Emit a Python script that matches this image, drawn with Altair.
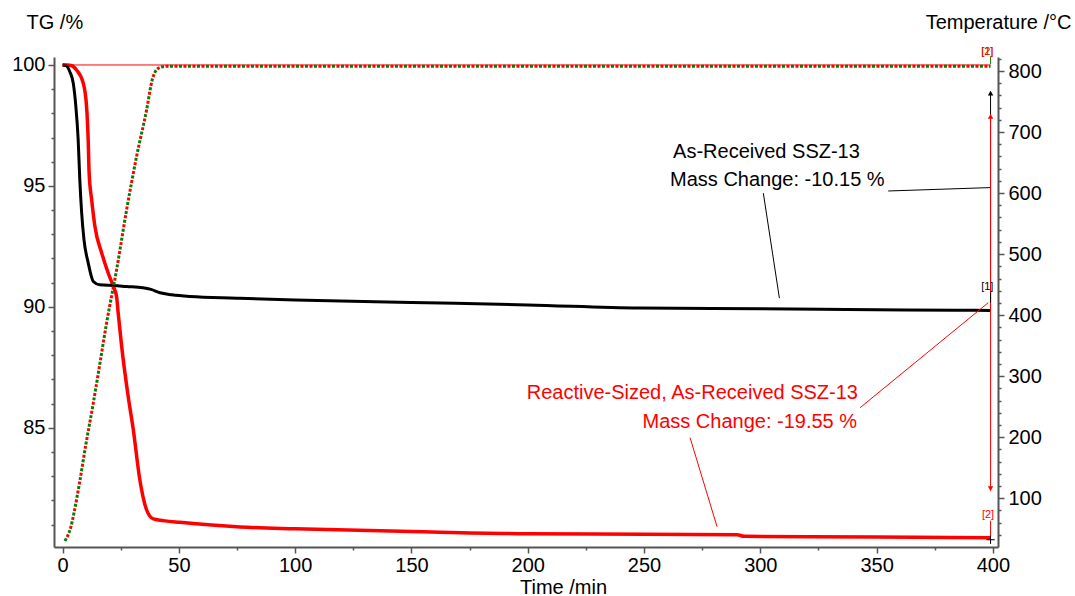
import altair as alt
import pandas as pd

# ---------------- data ----------------
# TG of as-received SSZ-13 (black)
as_time = [0, 1.5, 3.1, 4.6, 5.7, 6.7, 7.4, 8.2, 9.2, 11.0, 13.2, 16.0, 22.0, 27.5, 34.5,
           38.0, 41.9, 47.0, 54.8, 74.8, 100, 150, 200, 248, 300, 337, 385, 399]
as_tg = [100, 99.97, 99.72, 99.24, 98.28, 96.90, 95.25, 93.88, 92.77, 91.82, 91.05, 90.91,
         90.88, 90.84, 90.79, 90.72, 90.58, 90.50, 90.43, 90.36, 90.28, 90.18, 90.08, 89.95,
         89.92, 89.89, 89.86, 89.85]

# TG of reactive-sized, as-received SSZ-13 (red)
rs_time = [0, 2, 4, 6.0, 8.9, 10.3, 11.0, 11.4, 12.5, 13.9, 16.8, 19.6, 21.8, 23.2, 23.9,
           25.4, 28.2, 30.4, 33.2, 36.1, 39.0, 44, 50.4, 76.3, 100, 150, 200, 250, 290, 293,
           350, 399]
rs_tg = [100, 100, 99.97, 99.79, 99.24, 98.28, 96.90, 95.54, 94.42, 93.32, 92.23, 91.40,
         90.84, 90.43, 89.74, 88.36, 86.29, 84.92, 82.85, 81.61, 81.23, 81.15, 81.09, 80.90,
         80.82, 80.71, 80.62, 80.60, 80.58, 80.51, 80.48, 80.45]

# Temperature programme (same for both runs)
temp_time = [1.0, 2.0, 3.5, 5.0, 7.5, 10.0, 13.2, 16.0, 18.9, 23.2, 27.5, 31.8, 36.1, 38.5,
             40.0, 42.0, 45.0, 100, 200, 300, 399]
temp_val = [30, 37, 52, 78, 130, 188, 256, 320, 387, 474, 572, 660, 736, 785, 800, 806, 808,
            808, 808, 808, 808]

# axis ticks
x_ticks = list(range(0, 401, 25))
tg_ticks = list(range(81, 101))
temp_ticks = list(range(40, 821, 20))

# annotation texts (anchors in data units: time, TG)
note_left_text = ["As-Received SSZ-13", "Mass Change: -10.15 %"]
note_left_t = [262.5, 261.2]
note_left_tg = [96.40, 95.23]
note_right_text = ["Reactive-Sized, As-Received SSZ-13", "Mass Change: -19.55 %"]
note_right_t = [342.0, 341.6]
note_right_tg = [86.45, 85.25]

# small step marks
mark_text = ["[1]", "[2]", "[1]", "[2]"]
mark_t = [397.6, 397.9, 397.6, 397.6]
mark_tg = [90.83, 81.40, 100.54, 100.54]
mark_col = ["black", "red", "green", "red"]

# leader / marker segments (time1, tg1, time2, tg2, colour)
seg_t1 = [0, 301.3, 355.0, 269.8, 342.9, 399, 399, 399, 399, 399]
seg_y1 = [100, 94.70, 94.79, 84.59, 85.83, 98.90, 97.95, 90.58, 81.16, 100.33]
seg_t2 = [399, 308.2, 398.8, 281.4, 398.0, 399, 399, 399, 399, 399]
seg_y2 = [100, 90.36, 94.93, 80.91, 90.17, 89.85, 82.40, 90.17, 80.50, 100.04]
seg_col = ["red", "black", "black", "red", "red", "black", "red", "black", "red", "green"]

# arrow heads
arrow_t = [399, 399, 399]
arrow_tg = [98.84, 97.88, 82.48]
arrow_shape = ["triangle-up", "triangle-up", "triangle-down"]
arrow_col = ["black", "red", "red"]

# ---------------- frames ----------------
df_as = pd.DataFrame({"t": as_time, "tg": as_tg})
df_rs = pd.DataFrame({"t": rs_time, "tg": rs_tg})
df_temp = pd.DataFrame({"t": temp_time, "T": temp_val})
df_nl = pd.DataFrame({"t": note_left_t, "tg": note_left_tg, "txt": note_left_text})
df_nr = pd.DataFrame({"t": note_right_t, "tg": note_right_tg, "txt": note_right_text})
df_mk = pd.DataFrame({"t": mark_t, "tg": mark_tg, "txt": mark_text, "c": mark_col})
df_seg = pd.DataFrame({"t1": seg_t1, "y1": seg_y1, "t2": seg_t2, "y2": seg_y2, "c": seg_col})
df_arr = pd.DataFrame({"t": arrow_t, "tg": arrow_tg, "s": arrow_shape, "c": arrow_col})
df_cross = pd.DataFrame({"t": [399], "tg": [80.37]})

FONT = "Liberation Sans"
AX = dict(domainColor="#555555", domainWidth=2, tickColor="#555555", tickWidth=1.5,
          labelColor="black", labelFont=FONT, labelFontSize=20, titleFont=FONT,
          titleFontSize=20, titleFontWeight="normal", titleColor="black", grid=False)

xscale = alt.Scale(domain=[-3.7, 402.2], nice=False, zero=False)
tgscale = alt.Scale(domain=[80.07, 100.33], nice=False, zero=False)
tscale = alt.Scale(domain=[20, 823], nice=False, zero=False)


def tick_len(step):
    return {"condition": {"test": f"datum.value % {step} === 0", "value": 6}, "value": 3}


x_axis = alt.Axis(values=x_ticks, labelExpr="datum.value % 50 === 0 ? datum.label : ''",
                  title="Time /min", titleX=509, titleY=40, titleBaseline="middle",
                  titleAlign="center", labelPadding=2, tickSize=tick_len(50), **AX)
tg_axis = alt.Axis(values=tg_ticks, labelExpr="datum.value % 5 === 0 ? datum.label : ''",
                   title="TG /%", titleAngle=0, titleX=-28, titleY=-35, titleAlign="left",
                   titleBaseline="middle", labelPadding=3, tickSize=tick_len(5), **AX)
t_axis = alt.Axis(values=temp_ticks, labelExpr="datum.value % 100 === 0 ? datum.label : ''",
                  orient="right", title="Temperature /°C", titleAngle=0, titleX=73, titleY=-35,
                  titleAlign="right", titleBaseline="middle", labelPadding=4,
                  tickSize=tick_len(100), **AX)

X = alt.X("t:Q", scale=xscale, axis=x_axis)
Y = alt.Y("tg:Q", scale=tgscale, axis=tg_axis)

black_line = alt.Chart(df_as).mark_line(color="black", strokeWidth=3, interpolate="monotone").encode(
    x=X, y=Y)
red_line = alt.Chart(df_rs).mark_line(color="#ff0000", strokeWidth=3.5, interpolate="monotone").encode(
    x=X, y=Y)
segs = alt.Chart(df_seg).mark_rule(strokeWidth=1).encode(
    x=alt.X("t1:Q", scale=xscale, axis=x_axis), x2="t2:Q",
    y=alt.Y("y1:Q", scale=tgscale, axis=tg_axis), y2="y2:Q",
    color=alt.Color("c:N", scale=None),
)
arrows = alt.Chart(df_arr).mark_point(filled=True, size=30, opacity=1).encode(
    x=X, y=Y,
    shape=alt.Shape("s:N", scale=None),
    color=alt.Color("c:N", scale=None),
)
cross = alt.Chart(df_cross).mark_point(shape="M-1,0H1M0,-1V1", size=70, filled=False,
                                       color="black", strokeWidth=1, opacity=1).encode(x=X, y=Y)
notes_l = alt.Chart(df_nl).mark_text(align="left", baseline="middle", font=FONT, fontSize=20,
                                     color="black").encode(x=X, y=Y, text="txt:N")
notes_r = alt.Chart(df_nr).mark_text(align="right", baseline="middle", font=FONT, fontSize=20,
                                     color="#ff0000").encode(x=X, y=Y, text="txt:N")
marks = alt.Chart(df_mk).mark_text(align="center", baseline="middle", font=FONT, fontSize=11).encode(
    x=X, y=Y, text="txt:N", color=alt.Color("c:N", scale=None))

left = alt.layer(red_line, black_line, segs, arrows, cross, notes_l, notes_r, marks)

YT = alt.Y("T:Q", scale=tscale, axis=t_axis)
temp_green = alt.Chart(df_temp).mark_line(color="#008000", strokeWidth=3, strokeDash=[3, 6],
                                          interpolate="monotone").encode(x=X, y=YT)
temp_red = alt.Chart(df_temp).mark_line(color="#ff0000", strokeWidth=3, strokeDash=[3, 6],
                                        strokeDashOffset=4.5, interpolate="monotone").encode(x=X, y=YT)
right = alt.layer(temp_green, temp_red)

chart = alt.layer(left, right).resolve_scale(y="independent").properties(
    width=944, height=490,
    padding={"left": 54, "top": 57, "right": 77, "bottom": 49},
    autosize=alt.AutoSizeParams(type="none"),
    background="white",
).configure_view(stroke=None)

chart.save("out.html", embed_options={"renderer": "svg", "actions": False})
